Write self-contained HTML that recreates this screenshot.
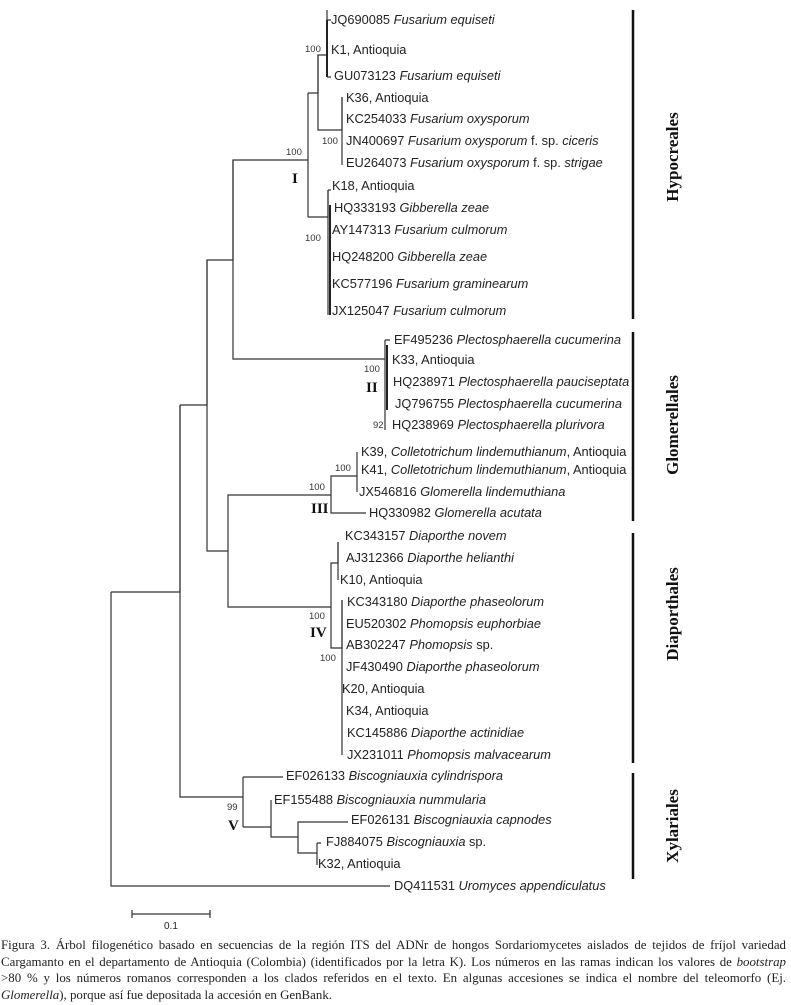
<!DOCTYPE html>
<html><head><meta charset="utf-8">
<style>
html,body{margin:0;padding:0;background:#fff;}
body{width:791px;height:1005px;position:relative;overflow:hidden;}
svg{position:absolute;left:0;top:0;}
.t{font-family:"Liberation Sans",Arial,sans-serif;font-size:12.8px;fill:#222;}
.b{font-family:"Liberation Sans",Arial,sans-serif;font-size:9.5px;fill:#333;}
.r{font-family:"Liberation Serif",serif;font-weight:bold;font-size:15px;fill:#111;}
.o{font-family:"Liberation Serif",serif;font-weight:bold;font-size:17px;fill:#111;}
#cap{position:absolute;left:1px;top:937px;width:785px;font-family:"Liberation Serif",serif;font-size:12.9px;line-height:16.6px;color:#222;}
#cap div{white-space:nowrap;text-align:justify;text-align-last:justify;height:16.6px;overflow:visible;}
#cap div.l{text-align-last:left;}
</style></head><body>
<svg width="791" height="1005" viewBox="0 0 791 1005">
<g stroke="#333" stroke-width="1.2" fill="none">
<path d="M111,592 V886 H390"/>
<path d="M111,592 H180 V405"/>
<path d="M180,405 H207 V260 H233 V160 H308"/>
<path d="M180,405 V797 H243"/>
<path d="M308,93 V217"/>
<path d="M308,93 H318 V55 H327"/>
<path d="M327,10 V77"/>
<path d="M327,20 H331 M327,77 H331"/>
<path d="M318,55 V130 H342 V97"/>
<path d="M342,97 V165"/>
<path d="M308,217 H328 V190"/>
<path d="M328,190 V315"/>
<path d="M328,190 H331"/>
<path d="M233,160 V359 H385"/>
<path d="M385,340 V430 M385,340 H390"/>
<path d="M207,260 V551 H228 V495 H331 V476 H357"/>
<path d="M357,452 V492"/>
<path d="M331,495 V513 H366"/>
<path d="M228,551 V607 H331 V563 H338 V542"/>
<path d="M338,542 V580"/>
<path d="M331,607 V648 H342 V600"/>
<path d="M342,600 V755"/>
<path d="M243,777 V827 M243,777 H283 M243,827 H271 V800 M271,800 V837 H298 V822 H348 M298,822 V853 H317 V843 M317,843 H321 M317,843 V865"/>
<path d="M132,914 H210 M132,910 V918 M210,910 V918"/>
</g>
<g stroke="#222" stroke-width="2" fill="none">
<path d="M327,20 V77"/><path d="M330,205 V315"/><path d="M387,345 V410"/>
</g>
<g stroke="#111" stroke-width="2.5">
<path d="M633,10 V319"/><path d="M633,332 V521"/><path d="M633,533 V763"/><path d="M633,773 V879"/>
</g>
<g class="t">
<text x="331" y="24">JQ690085 <tspan font-style="italic">Fusarium equiseti</tspan></text>
<text x="331" y="54">K1, Antioquia</text>
<text x="334" y="80">GU073123 <tspan font-style="italic">Fusarium equiseti</tspan></text>
<text x="346" y="102">K36, Antioquia</text>
<text x="346" y="123">KC254033 <tspan font-style="italic">Fusarium oxysporum</tspan></text>
<text x="346" y="145">JN400697 <tspan font-style="italic">Fusarium oxysporum</tspan> f. sp. <tspan font-style="italic">ciceris</tspan></text>
<text x="346" y="167">EU264073 <tspan font-style="italic">Fusarium oxysporum</tspan> f. sp. <tspan font-style="italic">strigae</tspan></text>
<text x="332" y="190">K18, Antioquia</text>
<text x="334" y="212">HQ333193 <tspan font-style="italic">Gibberella zeae</tspan></text>
<text x="332" y="234">AY147313 <tspan font-style="italic">Fusarium culmorum</tspan></text>
<text x="332" y="261">HQ248200 <tspan font-style="italic">Gibberella zeae</tspan></text>
<text x="332" y="288">KC577196 <tspan font-style="italic">Fusarium graminearum</tspan></text>
<text x="332" y="315">JX125047 <tspan font-style="italic">Fusarium culmorum</tspan></text>
<text x="394" y="344">EF495236 <tspan font-style="italic">Plectosphaerella cucumerina</tspan></text>
<text x="392" y="364">K33, Antioquia</text>
<text x="393" y="386">HQ238971 <tspan font-style="italic">Plectosphaerella pauciseptata</tspan></text>
<text x="395" y="408">JQ796755 <tspan font-style="italic">Plectosphaerella cucumerina</tspan></text>
<text x="392" y="429">HQ238969 <tspan font-style="italic">Plectosphaerella plurivora</tspan></text>
<text x="361" y="456">K39, <tspan font-style="italic">Colletotrichum lindemuthianum</tspan>, Antioquia</text>
<text x="361" y="474">K41, <tspan font-style="italic">Colletotrichum lindemuthianum</tspan>, Antioquia</text>
<text x="359" y="496">JX546816 <tspan font-style="italic">Glomerella lindemuthiana</tspan></text>
<text x="369" y="517">HQ330982 <tspan font-style="italic">Glomerella acutata</tspan></text>
<text x="345" y="540">KC343157 <tspan font-style="italic">Diaporthe novem</tspan></text>
<text x="346" y="562">AJ312366 <tspan font-style="italic">Diaporthe helianthi</tspan></text>
<text x="340" y="584">K10, Antioquia</text>
<text x="347" y="606">KC343180 <tspan font-style="italic">Diaporthe phaseolorum</tspan></text>
<text x="346" y="628">EU520302 <tspan font-style="italic">Phomopsis euphorbiae</tspan></text>
<text x="346" y="649">AB302247 <tspan font-style="italic">Phomopsis</tspan> sp.</text>
<text x="346" y="671">JF430490 <tspan font-style="italic">Diaporthe phaseolorum</tspan></text>
<text x="342" y="693">K20, Antioquia</text>
<text x="346" y="715">K34, Antioquia</text>
<text x="347" y="737">KC145886 <tspan font-style="italic">Diaporthe actinidiae</tspan></text>
<text x="347" y="759">JX231011 <tspan font-style="italic">Phomopsis malvacearum</tspan></text>
<text x="286" y="780">EF026133 <tspan font-style="italic">Biscogniauxia cylindrispora</tspan></text>
<text x="274" y="804">EF155488 <tspan font-style="italic">Biscogniauxia nummularia</tspan></text>
<text x="351" y="824">EF026131 <tspan font-style="italic">Biscogniauxia capnodes</tspan></text>
<text x="326" y="846">FJ884075 <tspan font-style="italic">Biscogniauxia</tspan> sp.</text>
<text x="318" y="868">K32, Antioquia</text>
<text x="394" y="890">DQ411531 <tspan font-style="italic">Uromyces appendiculatus</tspan></text>
<text x="164" y="929" font-size="10">0.1</text>
</g>
<g class="b">
<text x="305" y="52">100</text>
<text x="322" y="144">100</text>
<text x="286" y="155">100</text>
<text x="305" y="241">100</text>
<text x="364" y="372">100</text>
<text x="373" y="428">92</text>
<text x="335" y="471">100</text>
<text x="309" y="490">100</text>
<text x="309" y="619">100</text>
<text x="320" y="661">100</text>
<text x="227" y="810">99</text>
</g>
<g class="r">
<text x="292" y="183">I</text>
<text x="366" y="392">II</text>
<text x="311" y="513">III</text>
<text x="310" y="637">IV</text>
<text x="228" y="830">V</text>
</g>
<g class="o">
<text transform="translate(678,157) rotate(-90)" text-anchor="middle">Hypocreales</text>
<text transform="translate(678,425) rotate(-90)" text-anchor="middle">Glomerellales</text>
<text transform="translate(678,614) rotate(-90)" text-anchor="middle">Diaporthales</text>
<text transform="translate(678,826) rotate(-90)" text-anchor="middle">Xylariales</text>
</g>
</svg>
<div id="cap">
<div>Figura 3. Árbol filogenético basado en secuencias de la región ITS del ADNr de hongos Sordariomycetes aislados de tejidos de fríjol variedad</div>
<div>Cargamanto en el departamento de Antioquia (Colombia) (identificados por la letra K). Los números en las ramas indican los valores de <i>bootstrap</i></div>
<div>&gt;80 % y los números romanos corresponden a los clados referidos en el texto. En algunas accesiones se indica el nombre del teleomorfo (Ej.</div>
<div class="l"><i>Glomerella</i>), porque así fue depositada la accesión en GenBank.</div>
</div>
</body></html>
